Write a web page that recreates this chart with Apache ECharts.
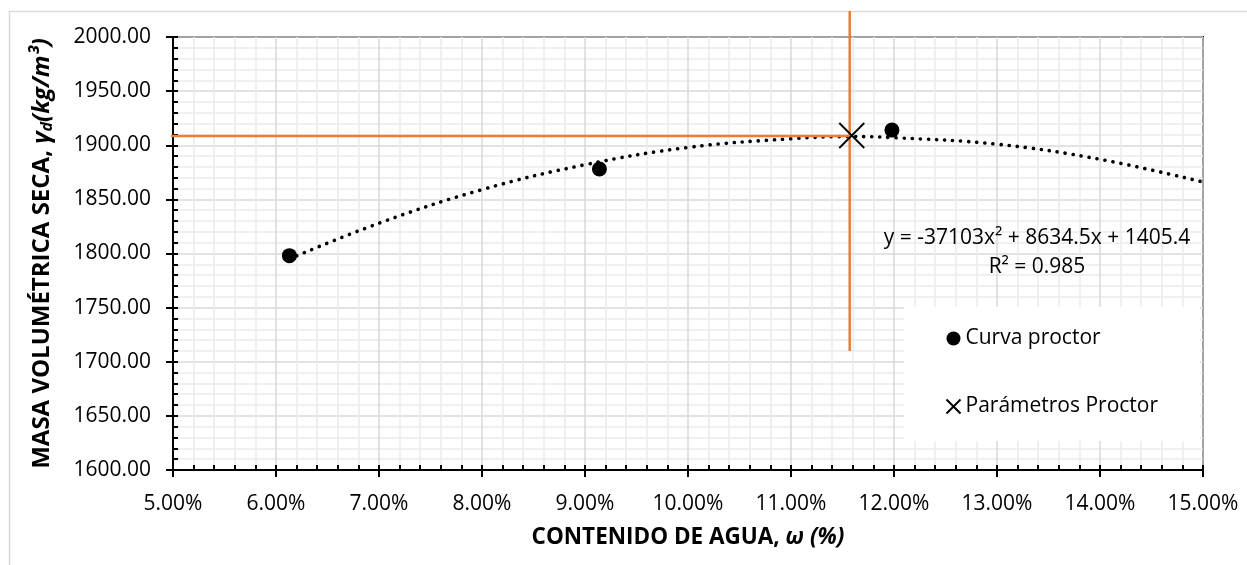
<!DOCTYPE html>
<html>
<head>
<meta charset="utf-8">
<script src="https://cdn.jsdelivr.net/npm/echarts@6/dist/echarts.min.js"></script>
<style>
html,body{margin:0;padding:0;background:#fff;}
#chart{width:1247px;height:565px;}
</style>
</head>
<body>
<div id="chart"></div>
<script>
// ---- data (x in %, y in kg/m3) ----
const curvaX = [6.13, 9.14, 11.98];
const curvaY = [1798, 1878, 1914];
const proctorX = [11.59];
const proctorY = [1909];
// dotted trendline
const trendX = [6.13, 7, 8, 9, 10, 11, 11.6, 12, 13, 14, 15];
const trendY = [1795, 1828, 1859, 1882, 1898, 1906, 1908, 1907, 1901, 1887, 1866];
// orange reference lines
const hLineX = [4.85, 11.57];
const hLineY = [1908.6, 1908.6];
const vLineX = [11.57, 11.57];
const vLineY = [2024, 1710];
const xTicks = {min: 5, max: 15, step: 1};
const yTicks = {min: 1600, max: 2000, step: 50};
const equationText = 'y = -37103x² + 8634.5x + 1405.4';
const r2Text = 'R² = 0.985';
const seriesNames = ['Curva proctor', 'Parámetros Proctor'];

const zip = (a, b) => a.map((v, i) => [v, b[i]]);
const FONT = '"Open Sans", "Liberation Sans", sans-serif';
const chart = echarts.init(document.getElementById('chart'), null, {renderer: 'canvas'});

const tickColor = '#000';
const option = {
  animation: false,
  backgroundColor: '#fff',
  textStyle: {fontFamily: FONT},
  grid: {left: 173, right: 44, top: 37, bottom: 95, show: true, borderColor: '#000', borderWidth: 2, backgroundColor: 'transparent'},
  legend: {
    left: 904, top: 307, orient: 'vertical',
    padding: [21, 42, 24, 40],
    backgroundColor: '#fff',
    itemGap: 47, itemWidth: 14, itemHeight: 14,
    textStyle: {fontFamily: FONT, fontSize: 21, color: '#000', lineHeight: 20},
    data: seriesNames
  },
  xAxis: [{
    type: 'value', min: xTicks.min, max: xTicks.max, interval: xTicks.step, position: 'bottom',
    axisLine: {show: true, lineStyle: {color: '#000', width: 2}},
    axisTick: {show: true, inside: false, length: 7, lineStyle: {color: tickColor, width: 2}},
    axisLabel: {fontFamily: FONT, fontSize: 21, color: '#000', margin: 24, formatter: v => v.toFixed(2) + '%'},
    splitLine: {show: true, lineStyle: {color: '#d9d9d9', width: 1.5}},
    minorSplitLine: {show: true, lineStyle: {color: '#ececec', width: 1.5}},
    minorTick: {show: false, splitNumber: 5},
    name: '{b|CONTENIDO DE AGUA, }{bi|ω (%)}',
    nameLocation: 'middle', nameGap: 56,
    nameTextStyle: {rich: {
      b: {fontFamily: FONT, fontWeight: 'bold', fontSize: 22.5, color: '#000'},
      bi: {fontFamily: FONT, fontWeight: 'bold', fontStyle: 'italic', fontSize: 22.5, color: '#000'}
    }}
  }, {
    type: 'value', min: xTicks.min, max: xTicks.max, interval: xTicks.step, position: 'bottom',
    axisLine: {show: false},
    axisTick: {show: true, inside: true, length: 5, lineStyle: {color: tickColor, width: 2}},
    minorTick: {show: true, splitNumber: 5, length: 5, lineStyle: {color: tickColor, width: 2}},
    axisLabel: {show: false}, splitLine: {show: false}
  }],
  yAxis: [{
    type: 'value', min: yTicks.min, max: yTicks.max, interval: yTicks.step, position: 'left',
    axisLine: {show: true, lineStyle: {color: '#000', width: 2}},
    axisTick: {show: true, inside: false, length: 7, lineStyle: {color: tickColor, width: 2}},
    axisLabel: {fontFamily: FONT, fontSize: 21, color: '#000', margin: 22, formatter: v => v.toFixed(2)},
    splitLine: {show: true, lineStyle: {color: '#d9d9d9', width: 1.5}},
    minorSplitLine: {show: true, lineStyle: {color: '#ececec', width: 1.5}},
    minorTick: {show: false, splitNumber: 5},
    name: '{b|MASA VOLUMÉTRICA SECA, }{bi|γ}{sub|d}{bi|(kg/m³)}',
    nameLocation: 'middle', nameGap: 118, nameRotate: 90,
    nameTextStyle: {rich: {
      b: {fontFamily: FONT, fontWeight: 'bold', fontSize: 24, color: '#000'},
      bi: {fontFamily: FONT, fontWeight: 'bold', fontStyle: 'italic', fontSize: 24, color: '#000'},
      sub: {fontFamily: FONT, fontWeight: 'bold', fontStyle: 'italic', fontSize: 16, color: '#000', verticalAlign: 'bottom', padding: [9, 0, 0, 0]}
    }}
  }, {
    type: 'value', min: yTicks.min, max: yTicks.max, interval: yTicks.step, position: 'left',
    axisLine: {show: false},
    axisTick: {show: true, inside: true, length: 5, lineStyle: {color: tickColor, width: 2}},
    minorTick: {show: true, splitNumber: 5, length: 5, lineStyle: {color: tickColor, width: 2}},
    axisLabel: {show: false}, splitLine: {show: false}
  }],
  series: [{
    name: 'trend', type: 'line', xAxisIndex: 0, yAxisIndex: 0,
    data: zip(trendX, trendY), smooth: 0.4, showSymbol: false, symbol: 'none',
    lineStyle: {color: '#000', width: 3.6, type: [0.1, 8], cap: 'round'},
    silent: true, z: 2
  }, {
    name: 'hline', type: 'line', data: zip(hLineX, hLineY), clip: false, symbol: 'none',
    lineStyle: {color: '#ED7D31', width: 2.5}, silent: true, z: 3
  }, {
    name: 'vline', type: 'line', data: zip(vLineX, vLineY), clip: false, symbol: 'none',
    lineStyle: {color: '#ED7D31', width: 2.5}, silent: true, z: 3
  }, {
    name: seriesNames[0], type: 'scatter', data: zip(curvaX, curvaY),
    symbol: 'circle', symbolSize: 15, itemStyle: {color: '#000', opacity: 1}, z: 4
  }, {
    name: seriesNames[1], type: 'scatter', data: zip(proctorX, proctorY),
    symbol: 'path://M0,0L10,10M10,0L0,10', symbolSize: 25,
    itemStyle: {color: 'none', borderColor: '#000', borderWidth: 1.8, opacity: 1}, z: 5
  }],
  graphic: [{
    type: 'rect', shape: {x: 9.5, y: 11.5, width: 1300, height: 700},
    style: {fill: 'none', stroke: '#d9d9d9', lineWidth: 1.5}, silent: true, z: -1
  }, {
    type: 'text', x: 1037, y: 238,
    style: {text: equationText, fill: '#000', font: '21px ' + FONT, align: 'center', verticalAlign: 'middle'}, z: 10
  }, {
    type: 'text', x: 1037, y: 267,
    style: {text: r2Text, fill: '#000', font: '21px ' + FONT, align: 'center', verticalAlign: 'middle'}, z: 10
  }]
};
chart.setOption(option);
</script>
</body>
</html>
